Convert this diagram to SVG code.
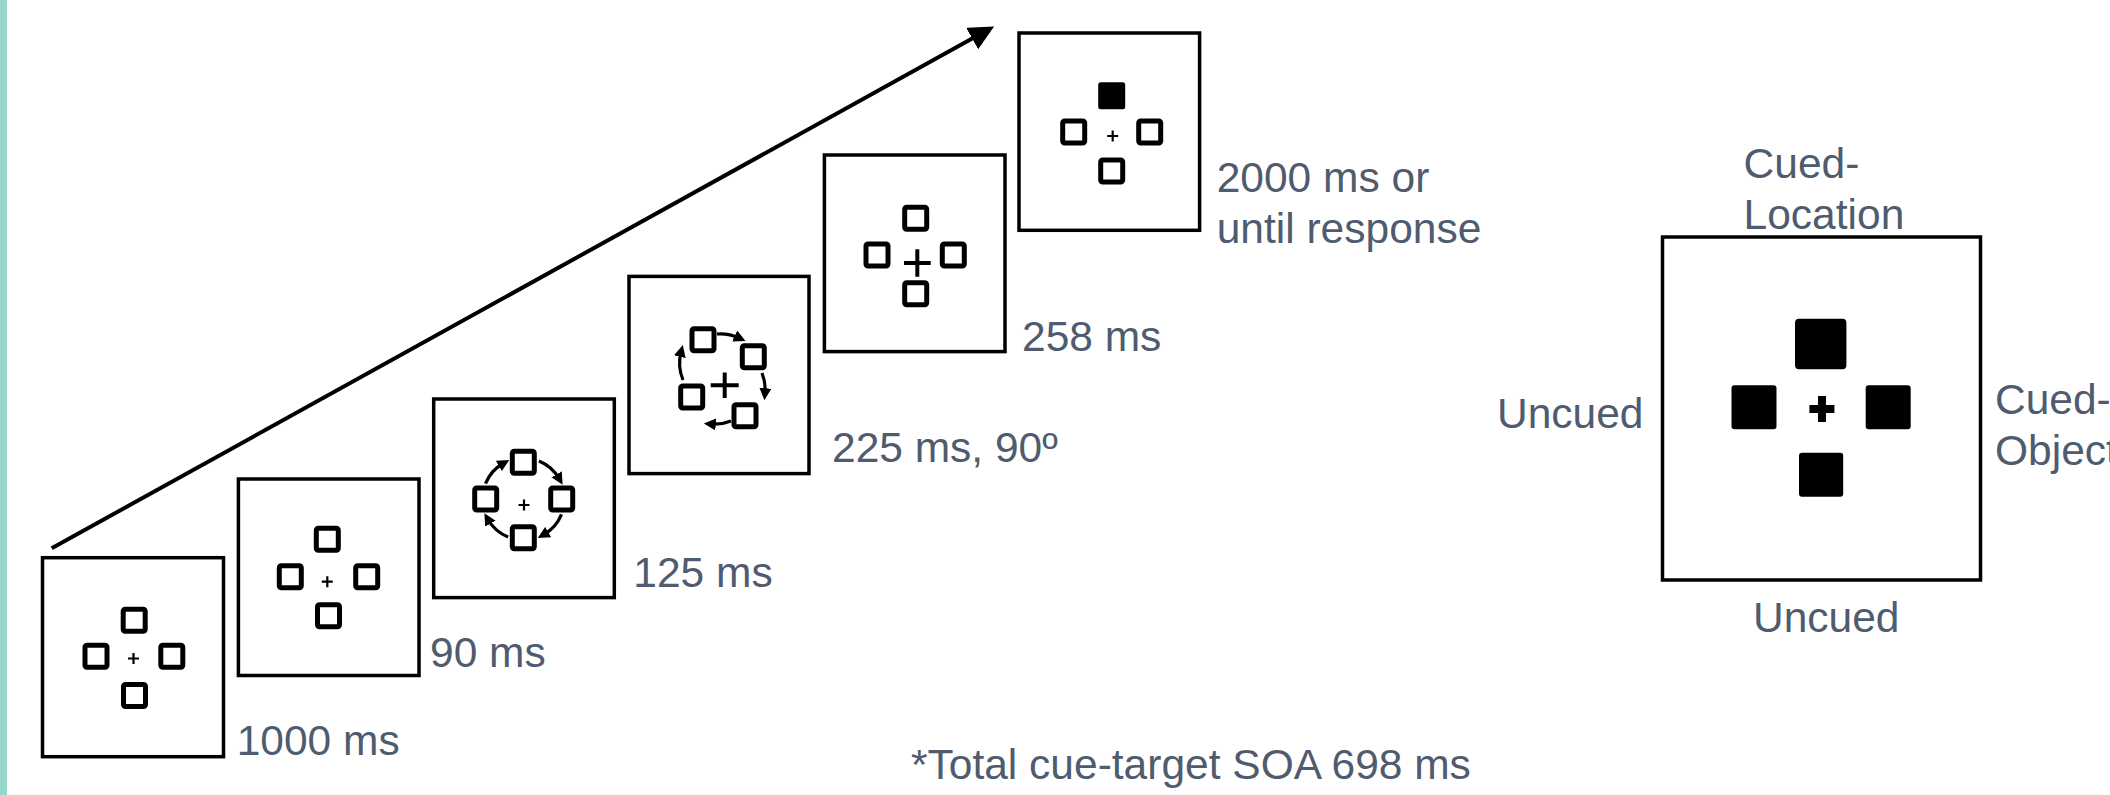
<svg xmlns="http://www.w3.org/2000/svg" width="2110" height="795" viewBox="0 0 2110 795">
<style>
.frame{fill:#fff;stroke:#000;stroke-width:3.5}
.sq{fill:#fff;stroke:#000;stroke-width:5}
.fsq{fill:#000}
.pl{stroke:#000;stroke-width:2.2;fill:none}
.bpl{stroke:#000;stroke-width:4;fill:none}
.arc{fill:none;stroke:#000;stroke-width:3.2;marker-end:url(#ah)}
.lbl{font-family:"Liberation Sans",Arial,sans-serif;font-size:42.5px;fill:#4f5b6e}
</style>
<defs>
<marker id="ah" markerUnits="userSpaceOnUse" viewBox="0 0 10 10" markerWidth="12" markerHeight="12" refX="4" refY="5" orient="auto"><path d="M0,0 L10,5 L0,10 z" fill="#000"/></marker>
<marker id="big" markerUnits="userSpaceOnUse" viewBox="0 0 25 24.5" markerWidth="25" markerHeight="24.5" refX="1" refY="12.25" orient="auto"><path d="M0,0 L25,12.25 L0,24.5 z" fill="#000"/></marker>
</defs>
<rect x="0" y="0" width="7" height="795" fill="#97d5cd"/>

<g id="connectors">
<line x1="51.7" y1="548.3" x2="973.1" y2="38.1" stroke="#000" stroke-width="4" marker-end="url(#big)"/>
</g>

<g id="frame1">
<rect class="frame" x="42.5" y="557.7" width="181" height="199"/>
<rect class="sq" x="123.2" y="609.3" width="22" height="22" rx="2"/>
<rect class="sq" x="85" y="645.3" width="22" height="22" rx="2"/>
<rect class="sq" x="160.8" y="645.3" width="22" height="22" rx="2"/>
<rect class="sq" x="123.5" y="684.5" width="22" height="22" rx="2"/>
<path class="pl" d="M128,658.5 H139 M133.5,653 V664"/>
<text class="lbl" x="236.7" y="755.3">1000 ms</text>
</g>

<g id="frame2">
<rect class="frame" x="238.4" y="479" width="180.6" height="196.5"/>
<rect class="sq" x="316.3" y="528.3" width="22" height="22" rx="2" stroke-width="7.5"/>
<rect class="sq" x="279.3" y="565.7" width="22" height="22" rx="2"/>
<rect class="sq" x="355.7" y="565.7" width="22" height="22" rx="2"/>
<rect class="sq" x="317.5" y="604.7" width="22" height="22" rx="2"/>
<path class="pl" d="M321.8,581.7 H332.8 M327.3,576.2 V587.2"/>
<text class="lbl" x="430" y="666.7">90 ms</text>
</g>

<g id="frame3">
<rect class="frame" x="433.7" y="399" width="180.6" height="198.6"/>
<rect class="sq" x="512.3" y="451.3" width="22" height="22" rx="2"/>
<rect class="sq" x="474.7" y="488" width="22" height="22" rx="2"/>
<rect class="sq" x="550.7" y="488" width="22" height="22" rx="2"/>
<rect class="sq" x="512.3" y="526.7" width="22" height="22" rx="2"/>
<path class="pl" d="M518.5,505 H529.5 M524,499.5 V510.5"/>
<path class="arc" d="M538.9,461 A41,41 0 0 1 559,478.5"/>
<path class="arc" d="M561.5,514.4 A41,41 0 0 1 544,534.5"/>
<path class="arc" d="M508.1,537 A41,41 0 0 1 488,519.5"/>
<path class="arc" d="M485.5,483.6 A41,41 0 0 1 503,463.5"/>
<text class="lbl" x="633.3" y="586.7">125 ms</text>
</g>

<g id="frame4">
<rect class="frame" x="629" y="276.4" width="180" height="197.2"/>
<rect class="sq" x="692" y="328.7" width="22" height="22" rx="2"/>
<rect class="sq" x="742.3" y="345.7" width="22" height="22" rx="2"/>
<rect class="sq" x="680.7" y="386" width="22" height="22" rx="2"/>
<rect class="sq" x="734" y="404.7" width="22" height="22" rx="2"/>
<path class="bpl" d="M710.7,385.3 H738.7 M724.7,372.5 V398"/>
<path class="arc" d="M717,334 A44,44 0 0 1 739,338"/>
<path class="arc" d="M762,373 A44,44 0 0 1 765,393"/>
<path class="arc" d="M731,421 A44,44 0 0 1 711,424"/>
<path class="arc" d="M683,380 A44,44 0 0 1 681,352"/>
<text class="lbl" x="832" y="461.7">225 ms, 90º</text>
</g>

<g id="frame5">
<rect class="frame" x="824.4" y="155" width="180.6" height="196.6"/>
<rect class="sq" x="904.7" y="207.3" width="22" height="22" rx="2"/>
<rect class="sq" x="866" y="244" width="22" height="22" rx="2"/>
<rect class="sq" x="942.3" y="244" width="22" height="22" rx="2"/>
<rect class="sq" x="904.7" y="282.7" width="22" height="22" rx="2"/>
<path class="bpl" d="M904,263 H930.7 M917.3,249.3 V276.7"/>
<text class="lbl" x="1022" y="350.7">258 ms</text>
</g>

<g id="frame6">
<rect class="frame" x="1019" y="33" width="180.6" height="197.3"/>
<rect class="fsq" x="1098.2" y="82.2" width="27" height="27" rx="2.5"/>
<rect class="sq" x="1062.7" y="121" width="22" height="22" rx="2"/>
<rect class="sq" x="1138.7" y="121" width="22" height="22" rx="2"/>
<rect class="sq" x="1100.7" y="160" width="22" height="22" rx="2"/>
<path class="pl" d="M1107.2,136 H1118.2 M1112.7,130.5 V141.5"/>
<text class="lbl" x="1216.7" y="191.7">2000 ms or</text>
<text class="lbl" x="1216.7" y="242.7">until response</text>
</g>

<g id="note">
<text class="lbl" x="911" y="779">*Total cue-target SOA 698 ms</text>
</g>

<g id="target-display">
<rect class="frame" x="1662.5" y="237" width="318" height="343"/>
<rect class="fsq" x="1795" y="318.7" width="51.4" height="50.6" rx="4"/>
<rect class="fsq" x="1731.5" y="385.3" width="45" height="44" rx="3"/>
<rect class="fsq" x="1865.7" y="385.3" width="45" height="44" rx="3"/>
<rect class="fsq" x="1799" y="452.7" width="44.2" height="44" rx="3"/>
<rect class="fsq" x="1809.4" y="405" width="25" height="8"/>
<rect class="fsq" x="1818" y="396" width="8" height="26"/>
<text class="lbl" x="1743.6" y="178.3">Cued-</text>
<text class="lbl" x="1743.6" y="229">Location</text>
<text class="lbl" x="1497" y="427.7">Uncued</text>
<text class="lbl" x="1753" y="631.7">Uncued</text>
<text class="lbl" x="1995" y="414.3">Cued-</text>
<text class="lbl" x="1995" y="465">Object</text>
</g>
</svg>
